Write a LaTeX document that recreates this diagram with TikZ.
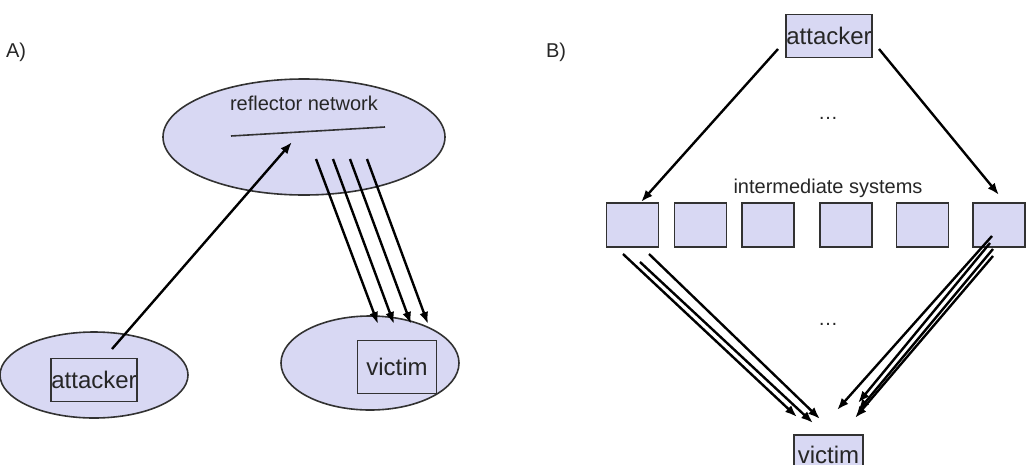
\documentclass[tikz,border=0pt]{standalone}
\usepackage{fontspec}
\setmainfont{Liberation Sans}
\usetikzlibrary{shapes.geometric,arrows.meta}
\definecolor{fillc}{RGB}{216,216,243}
\definecolor{edgec}{RGB}{50,50,50}
\tikzset{
  blob/.style={ellipse,draw=edgec,fill=fillc,line width=1.6pt,inner sep=0pt},
  sys/.style={rectangle,draw=edgec,fill=fillc,line width=1.6pt,inner sep=0pt},
  lbl/.style={font=\fontsize{20}{24}\selectfont,text=black!85,inner sep=0pt},
  big/.style={font=\fontsize{24}{28}\selectfont,text=black!85},
  flow/.style={line width=2.4pt,-{Latex[length=12pt,width=9pt]}}
}
\begin{document}
\begin{tikzpicture}[x=1pt,y=-1pt]
\useasboundingbox (0,0) rectangle (1031,464);
% ---------- A ----------
\node[lbl] (la) at (16,52) {A)};
\node[blob,minimum width=282,minimum height=116] (refl) at (304,137) {};
\node[lbl] (refltxt) at (304,103) {reflector network};
\coordinate (ls) at (231,136);
\coordinate (le) at (385,127);
\draw[line width=1.6pt,edgec] (ls) -- (le);
\node[blob,minimum width=188,minimum height=86] (aell) at (94,375) {};
\node[sys,minimum width=86,minimum height=43,big] (att) at (94,380) {attacker};
\node[blob,minimum width=178,minimum height=94] (vell) at (370,363) {};
\node[sys,minimum width=79,minimum height=53,big] (vic) at (397,367) {victim};
\coordinate (a0) at (112,349);
\coordinate (a1) at (292,142);
\draw[flow] (a0) -- (a1);
\foreach \i/\sx/\ex in {1/316/378,2/333/394,3/350/411,4/367/428}{
  \coordinate (rs\i) at (\sx,159);
  \coordinate (re\i) at (\ex,324);
  \draw[flow] (rs\i) -- (re\i);
}
% ---------- B ----------
\node[lbl] (lb) at (556,52) {B)};
\node[sys,minimum width=86,minimum height=43,big] (batt) at (829,36) {attacker};
\node[lbl] (dots1) at (828,118) {\ldots};
\node[lbl] (inter) at (828,188) {intermediate systems};
\foreach \n/\x in {1/632.5,2/700.5,3/768,4/846,5/922.5,6/999}{
  \node[sys,minimum width=52,minimum height=44] (s\n) at (\x,225) {};
}
\node[lbl] (dots2) at (828,324) {\ldots};
\node[sys,minimum width=69,minimum height=40,big,anchor=north] (bvic) at (828.5,434) {victim};
\coordinate (b0) at (778,49);
\coordinate (b1) at (641,202);
\coordinate (b2) at (879,49);
\coordinate (b3) at (999,195);
\draw[flow] (b0) -- (b1);
\draw[flow] (b2) -- (b3);
\foreach \i/\sx/\sy/\ex/\ey in {1/623/254/797/417,2/640/262/813/423,3/649/254/820/419}{
  \coordinate (ps\i) at (\sx,\sy);
  \coordinate (pe\i) at (\ex,\ey);
  \draw[flow] (ps\i) -- (pe\i);
}
\foreach \i/\sx/\sy/\ex/\ey in {1/992/236/837/410,2/990/243/858/403,3/993/249/858/411,4/993/256/855/418}{
  \coordinate (qs\i) at (\sx,\sy);
  \coordinate (qe\i) at (\ex,\ey);
  \draw[flow] (qs\i) -- (qe\i);
}
\end{tikzpicture}
\end{document}
